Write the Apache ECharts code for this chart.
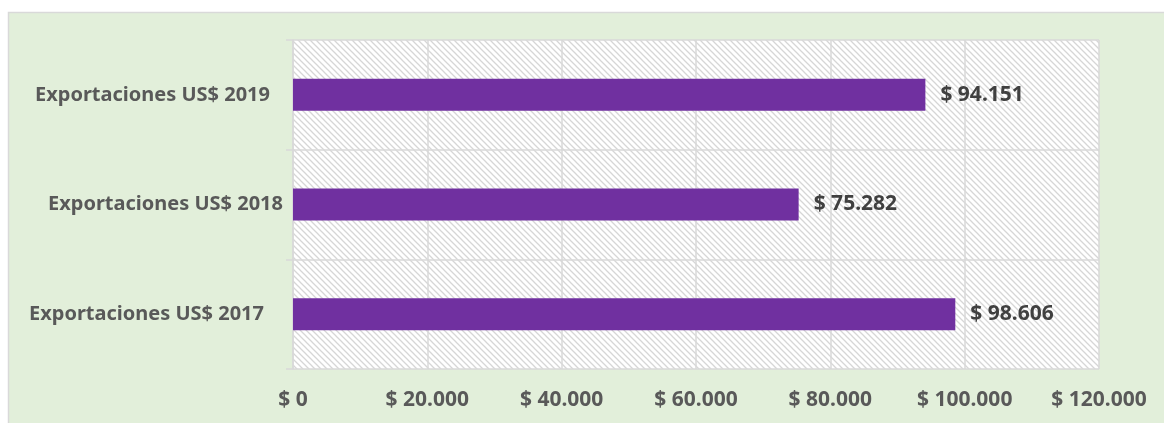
<!DOCTYPE html>
<html>
<head>
<meta charset="utf-8">
<script src="https://cdn.jsdelivr.net/npm/echarts@6/dist/echarts.min.js"></script>
<style>
html,body{margin:0;padding:0;background:#ffffff;}
#chart{width:1164px;height:423px;}
</style>
</head>
<body>
<div id="chart"></div>
<script>
const categories = ['Exportaciones US$ 2017', 'Exportaciones US$ 2018', 'Exportaciones US$ 2019'];
const values = [98606, 75282, 94151];
const axisMax = 120000;
const axisInterval = 20000;

function fmtThousands(v) {
  return '$ ' + String(Math.round(v)).replace(/\B(?=(\d{3})+(?!\d))/g, '.');
}

// hatch pattern
const pc = document.createElement('canvas');
pc.width = 6; pc.height = 6;
const g = pc.getContext('2d');
g.fillStyle = '#ffffff';
g.fillRect(0, 0, 6, 6);
g.strokeStyle = '#d6d6d6';
g.lineWidth = 1.3;
g.beginPath();
g.moveTo(-1, -1); g.lineTo(7, 7);
g.moveTo(-4, 2); g.lineTo(4, 10);
g.moveTo(2, -4); g.lineTo(10, 4);
g.stroke();

const chart = echarts.init(document.getElementById('chart'), null, {renderer: 'canvas'});
const fontFam = '"Noto Sans", "Liberation Sans", sans-serif';
const catStyle = {color: '#595959', fontSize: 20, fontWeight: 'bold', fontFamily: fontFam};
const richKeys = ['p0', 'p1', 'p2'];
const richPad = [19, 0, 13];
const rich = {};
richKeys.forEach((k, i) => { rich[k] = Object.assign({padding: [0, richPad[i], 0, 0]}, catStyle); });

chart.setOption({
  animation: false,
  backgroundColor: '#ffffff',
  graphic: [{
    type: 'rect', z: -10, silent: true,
    shape: {x: 8.5, y: 12.5, width: 1200, height: 500},
    style: {fill: '#e2efda', stroke: '#d9d9d9', lineWidth: 1.5}
  }],
  grid: {
    left: 293, right: 65, top: 40, bottom: 54,
    show: true,
    backgroundColor: {image: pc, repeat: 'repeat'},
    borderWidth: 0
  },
  xAxis: {
    type: 'value',
    min: 0, max: axisMax, interval: axisInterval,
    axisLine: {show: false},
    axisTick: {show: false},
    splitLine: {show: true, lineStyle: {color: '#d9d9d9', width: 1.5}},
    axisLabel: {
      formatter: fmtThousands,
      color: '#595959', fontSize: 21, fontWeight: 'bold', fontFamily: fontFam,
      margin: 21
    }
  },
  yAxis: {
    type: 'category',
    data: categories,
    axisLine: {show: true, lineStyle: {color: '#d9d9d9', width: 1.5}},
    axisTick: {show: true, length: 7, lineStyle: {color: '#d9d9d9', width: 1.5}},
    splitLine: {show: true, lineStyle: {color: '#d9d9d9', width: 1.5}},
    axisLabel: Object.assign({
      margin: 10,
      formatter: (v, i) => '{' + richKeys[i] + '|' + v + '}',
      rich: rich
    }, catStyle)
  },
  series: [{
    type: 'bar',
    data: values,
    barWidth: 32,
    itemStyle: {color: '#7030a0'},
    label: {
      show: true, position: 'right', distance: 15,
      formatter: p => fmtThousands(p.value),
      color: '#404040', fontSize: 21, fontWeight: 'bold', fontFamily: fontFam
    }
  }]
});
</script>
</body>
</html>
